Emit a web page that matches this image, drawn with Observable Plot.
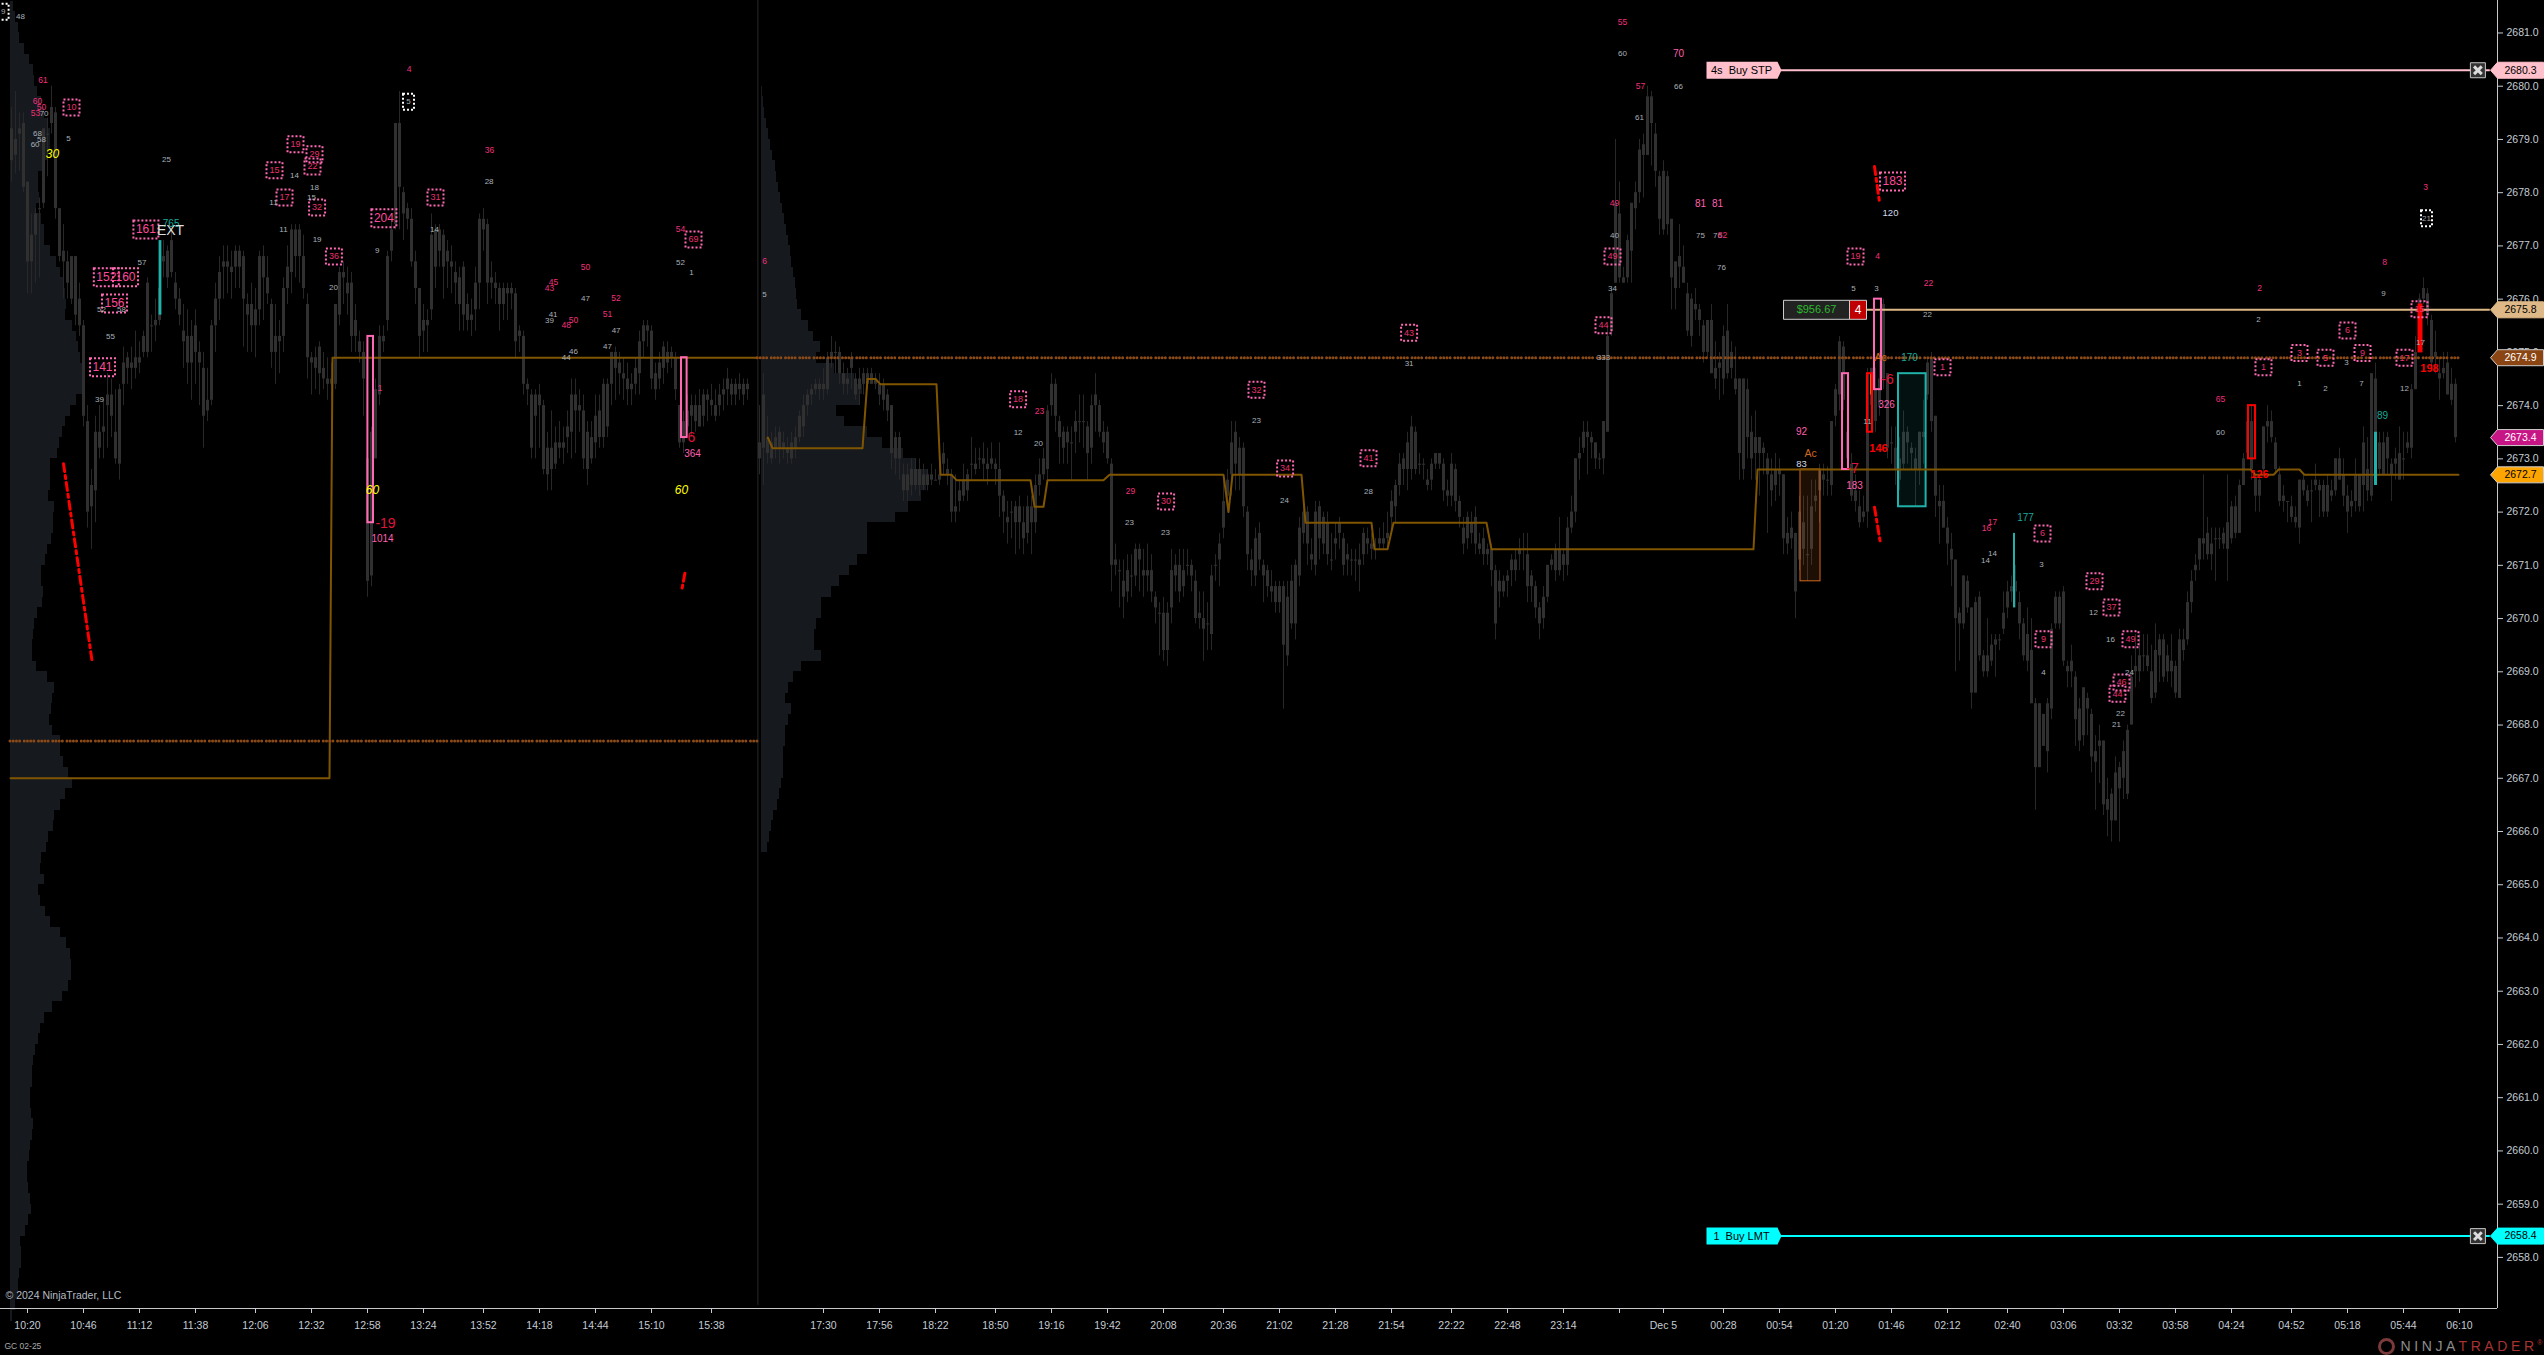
<!DOCTYPE html>
<html><head><meta charset="utf-8">
<style>
html,body{margin:0;padding:0;background:#000;overflow:hidden}
svg{display:block;background:#000}
</style>
<script src="https://cdn.jsdelivr.net/npm/d3@7"></script>
<script src="https://cdn.jsdelivr.net/npm/@observablehq/plot@0.6"></script>
</head><body><div id="chart"></div>
<script>
const priceBase = 2600;
// candle rows: [body top, body bottom, high, low], points above priceBase; one row per bar
const sessionOneStart = 3;
const sessionOneCandles = [
[79.2,78.6,79.6,78.2],[79.0,78.7,79.9,78.35],[79.2,79.1,79.5,78.4],[79.3,78.1,79.5,78.0],[78.2,76.7,78.2,76.1],[77.2,76.7,77.6,76.1],[77.6,77.2,77.7,76.3],[77.7,77.7,77.9,76.4],[79.2,77.8,79.2,77.7],[79.1,79.1,79.4,78.3],
[79.6,79.3,80.0,79.1],[79.5,77.7,79.6,77.5],[77.7,76.8,77.7,76.7],[76.9,76.7,77.4,76.0],[76.7,76.3,76.9,76.0],[76.8,76.0,76.8,75.9],[76.8,75.7,76.8,75.5],[76.0,75.5,76.3,75.3],[75.5,73.8,75.6,73.6],[73.7,72.0,74.0,71.7],
[72.5,72.1,72.8,71.3],[73.5,72.4,73.8,71.8],[73.5,73.2,74.0,73.0],[73.6,73.5,74.1,73.0],[74.2,74.0,74.6,73.2],[74.2,73.8,74.5,73.4],[73.5,73.0,74.3,72.9],[74.3,72.9,74.4,72.6],[74.8,74.4,75.1,74.0],[74.9,74.7,75.0,74.4],
[74.8,74.7,75.1,74.3],[74.9,74.7,75.4,74.5],[74.9,74.8,75.2,74.6],[75.3,75.0,75.4,74.9],[76.3,75.0,76.4,74.9],[75.5,75.5,75.7,75.0],[75.6,75.5,76.0,75.2],[76.2,75.6,76.5,75.5],[76.8,76.7,77.1,76.4],[76.9,76.4,77.0,76.2],
[77.1,76.5,77.3,76.4],[76.3,76.0,76.5,75.8],[76.0,75.7,76.2,75.5],[75.4,75.2,75.9,74.7],[75.3,74.8,75.8,74.4],[75.3,74.8,75.6,74.1],[75.5,75.0,75.8,74.4],[75.0,74.8,75.2,74.0],[74.7,73.8,75.0,73.2],[74.1,73.9,74.7,73.7],
[75.5,74.1,75.6,74.0],[76.0,75.5,76.3,75.0],[76.5,76.0,76.8,75.6],[76.7,76.6,77.0,76.0],[76.7,76.6,77.0,76.1],[76.6,76.5,76.9,76.0],[76.9,76.6,77.0,76.2],[76.9,76.6,77.0,76.2],[76.8,76.0,76.9,75.1],[75.9,75.7,76.1,75.0],
[75.9,75.5,76.3,75.0],[75.8,75.5,76.2,74.9],[76.8,75.8,76.9,75.5],[76.8,76.4,77.0,75.6],[76.4,76.1,76.8,75.9],[75.9,75.0,76.0,74.7],[75.3,75.0,75.9,74.4],[75.3,75.2,75.6,74.6],[76.2,75.3,76.4,75.0],[76.6,76.2,77.0,75.9],
[77.3,76.5,77.4,76.1],[77.3,76.8,77.4,76.4],[77.3,76.8,77.4,76.3],[76.8,76.2,77.2,76.0],[75.9,74.9,76.1,74.5],[74.9,74.8,75.0,74.2],[74.9,74.7,75.1,74.3],[75.1,74.6,75.2,74.2],[74.7,74.5,75.0,74.3],[74.5,74.4,74.9,74.1],
[74.5,74.4,74.8,74.1],[75.9,74.4,75.9,74.3],[76.5,75.7,76.6,75.5],[76.5,76.4,76.7,75.9],[76.3,76.1,76.6,75.7],[76.3,75.3,76.5,75.0],[75.6,75.3,75.9,75.0],[75.2,75.0,75.4,74.8],[75.0,74.5,75.2,73.8],[73.0,70.7,73.3,70.4],
[73.5,70.8,73.6,70.6],[74.3,73.0,74.5,73.0],[75.3,74.2,75.5,74.0],[75.3,75.2,75.5,75.0],[76.8,75.6,76.9,75.4],[77.3,76.9,77.5,76.7],[79.3,77.4,79.3,77.3],[79.3,78.1,79.9,77.3],[78.0,77.6,78.1,77.1],[77.7,77.5,77.8,77.3],
[77.5,76.7,77.7,76.6],[76.7,76.2,76.9,75.9],[76.2,75.3,76.2,74.9],[75.6,75.4,75.9,75.0],[75.6,75.5,75.8,75.0],[77.2,75.8,77.6,75.6],[77.3,76.6,77.4,76.2],[77.3,76.9,77.4,76.6],[77.2,76.6,77.3,76.0],[76.9,76.7,77.1,76.2],
[76.7,76.6,77.0,76.1],[76.5,76.3,76.7,75.9],[76.4,75.9,76.6,75.4],[76.6,75.7,76.7,75.4],[75.9,75.6,76.1,75.4],[75.7,75.6,76.0,75.3],[76.3,75.8,76.6,75.4],[77.5,76.3,77.6,75.8],[77.5,77.3,77.7,76.9],[77.4,76.3,77.5,75.9],
[76.4,76.3,76.7,76.0],[76.3,76.2,76.5,75.9],[76.2,75.9,76.3,75.4],[76.2,75.9,76.3,75.6],[76.2,76.1,76.3,75.6],[76.2,76.1,76.3,75.8],[76.1,75.2,76.2,74.9],[75.4,75.3,75.5,75.0],[75.3,74.4,75.4,74.2],[74.4,74.3,74.5,74.0],
[74.2,73.2,74.3,73.0],[74.2,73.8,74.3,73.0],[74.2,74.0,74.4,73.2],[74.0,72.8,74.1,72.7],[73.2,72.7,73.5,72.4],[73.2,72.8,73.9,72.4],[73.3,72.9,73.6,72.8],[73.3,73.2,73.7,73.0],[73.3,73.2,73.6,72.9],[73.6,73.4,73.9,73.1],
[74.2,73.5,74.5,73.0],[74.2,73.9,74.5,73.1],[74.0,73.9,74.3,73.5],[73.9,73.0,74.2,72.8],[73.5,72.8,73.7,72.5],[73.4,73.0,73.7,72.9],[73.8,73.3,74.2,73.0],[73.9,73.4,74.2,73.2],[74.4,73.4,74.5,73.2],[74.4,73.6,74.5,73.4],
[75.0,74.4,75.0,74.0],[75.0,74.7,75.1,74.1],[74.8,74.6,75.0,74.2],[74.6,74.5,74.9,74.1],[74.5,74.3,74.8,74.0],[74.4,74.3,74.6,74.0],[74.7,74.4,74.9,74.2],[75.2,74.6,75.4,74.2],[75.5,75.2,75.6,74.9],[75.5,75.4,75.6,75.1],
[75.4,74.5,75.5,74.3],[74.6,74.3,74.8,74.1],[74.8,74.5,75.0,74.3],[75.1,74.7,75.2,74.4],[75.0,74.8,75.2,74.6],[75.0,74.9,75.1,74.7],[74.9,74.3,75.0,74.1],[74.0,73.3,74.0,73.2],[73.7,73.3,73.9,73.1],[73.9,73.6,74.2,73.4],
[74.0,73.8,74.2,73.4],[74.0,73.7,74.2,73.5],[74.0,73.6,74.3,73.6],[74.2,73.8,74.3,73.6],[74.2,74.1,74.3,73.7],[74.1,74.0,74.4,73.8],[74.0,73.8,74.3,73.7],[74.2,74.0,74.4,73.8],[74.3,74.2,74.5,73.9],[74.5,74.3,74.7,74.0],
[74.4,74.2,74.5,74.0],[74.4,74.2,74.5,74.0],[74.4,74.3,74.6,74.1],[74.4,74.2,74.5,74.0],[74.4,74.3,74.5,74.1]];
const sessionTwoStart = 190;
const sessionTwoEvening = [
[73.3,73.0,74.0,72.7],[74.2,73.2,74.6,72.5],[73.4,73.1,73.8,72.9],[73.3,73.0,73.5,72.9],[73.4,73.2,73.6,73.0],[73.5,73.2,73.6,72.9],[73.3,73.2,73.5,73.0],[73.2,73.1,73.4,72.9],[73.3,73.0,73.5,72.9],[73.4,73.2,73.6,73.0],
[73.8,73.4,73.9,73.3],[74.0,73.6,74.2,73.4],[74.2,74.0,74.3,73.8],[74.3,74.2,74.4,74.0],[74.4,74.3,74.5,74.2],[74.4,74.3,74.5,74.1],[74.4,74.3,74.7,74.1],[74.9,74.3,75.0,74.2],[75.0,74.9,75.3,74.7],[75.0,75.0,75.2,74.6],
[75.0,74.6,75.1,74.4],[74.6,74.4,74.8,74.2],[74.5,74.4,74.7,74.2],[74.9,74.7,75.0,74.3],[74.5,74.2,74.6,74.1],[74.5,74.3,74.7,74.0],[74.6,74.4,74.7,74.2],[74.6,74.4,74.7,74.3],[74.6,74.4,74.7,74.4],[74.5,74.4,74.6,74.3],
[74.4,74.2,74.6,74.0],[74.4,74.1,74.5,73.9],[74.2,73.9,74.3,73.7],[74.0,73.1,74.0,72.8],[73.4,73.0,73.5,72.7],[73.4,73.0,73.5,72.6],[72.7,72.4,72.9,72.2],[72.7,72.4,72.9,72.2],[72.8,72.5,73.0,72.3],[72.8,72.5,73.0,72.4],
[72.8,72.5,73.0,72.3],[72.7,72.5,72.9,72.4],[72.7,72.5,72.8,72.4],[72.7,72.6,72.9,72.5],[72.6,72.6,72.8,72.6],[72.7,72.6,73.0,72.5],[73.1,72.9,73.3,72.7],[72.8,72.7,73.0,72.5],[72.7,72.0,72.8,71.8],[72.1,72.0,72.7,71.8],
[72.4,72.2,72.6,72.0],[72.6,72.3,72.9,72.2],[72.7,72.4,72.8,72.2],[72.9,72.9,73.4,72.6],[72.9,72.8,73.2,72.7],[73.0,73.0,73.2,72.8],[73.0,72.9,73.3,72.6],[72.9,72.8,73.2,72.5],[73.0,72.9,73.3,72.8],[72.9,72.8,73.0,72.5],
[72.8,72.3,73.3,71.9],[72.3,72.0,72.4,71.6],[71.9,71.8,72.2,71.4],[72.0,72.0,72.2,71.5],[72.1,71.8,72.2,71.2],[72.1,71.8,72.3,71.3],[71.8,71.5,72.1,71.2],[72.1,71.6,72.3,71.4],[72.1,71.8,72.3,71.2],[72.5,71.8,72.7,71.6],
[72.7,72.5,73.0,72.3],[73.0,72.7,73.2,72.6],[73.9,72.8,74.0,72.6],[74.4,74.0,74.6,73.8],[74.4,73.8,74.5,73.5],[73.7,73.4,73.8,72.9],[73.5,73.2,73.6,72.9],[73.5,73.3,73.6,72.9],[73.3,73.3,73.6,72.6],[73.7,73.5,73.9,73.1],
[73.7,73.7,74.2,73.3],[73.7,73.7,74.2,73.2],[73.6,73.1,73.7,72.6],[74.0,73.2,74.2,72.9],[74.2,74.0,74.6,73.5],[74.0,73.5,74.1,73.4],[73.5,73.3,73.7,73.1],[73.5,73.0,73.6,72.9],[72.9,71.0,73.0,70.5],[71.1,71.0,71.4,70.8],
[70.9,70.9,71.1,70.2],[70.7,70.4,71.1,70.0],[70.9,70.5,71.2,70.3],[70.8,70.8,71.2,70.4],[71.3,70.8,71.4,70.6],[71.3,71.1,71.4,70.5],[70.9,70.8,71.3,70.4],[70.9,70.8,71.4,70.5],[70.9,70.5,71.2,70.3],[70.4,70.2,70.5,69.9],
[70.1,70.1,70.3,69.3],[70.1,69.4,70.4,69.2],[70.1,69.4,70.3,69.1],[70.9,70.2,71.3,69.9],[71.0,70.8,71.2,70.5],[71.0,70.5,71.3,70.3],[70.9,70.6,71.3,70.4],[71.0,71.0,71.3,70.8],[71.0,70.8,71.1,70.5],[70.7,70.0,70.9,69.9],
[70.1,70.0,70.5,69.8],[70.0,69.8,70.5,69.2],[69.9,69.9,70.3,69.4],[70.8,69.7,71.0,69.4],[71.0,71.0,71.2,70.7],[71.4,71.1,71.6,70.6],[72.2,71.7,72.7,71.5],[72.6,72.3,72.8,72.0],[73.3,72.7,73.7,72.3],[73.5,72.9,73.7,72.4],
[73.2,72.7,73.4,72.4],[73.2,72.1,73.3,71.9],[72.0,71.2,72.1,70.9],[71.1,70.9,71.3,70.6],[71.5,70.8,71.7,70.6],[71.6,71.1,71.8,70.9],[71.0,70.8,71.1,70.3],[70.9,70.6,71.0,70.4],[70.6,70.5,70.9,70.3],[70.6,70.3,70.7,70.1],
[70.6,70.3,70.7,70.1],[70.6,69.5,70.7,68.3],[70.4,69.3,70.7,69.1],[70.7,69.9,71.0,69.8],[71.0,69.9,71.1,69.6],[71.7,70.8,71.9,70.6],[72.0,71.6,72.3,71.4],[72.0,71.4,72.1,71.0],[71.2,71.1,71.5,70.9],[72.0,71.0,72.2,70.8],
[72.1,71.5,72.2,71.1],[71.9,71.4,72.0,71.2],[71.8,71.2,72.0,71.0],[71.1,71.1,71.6,70.9],[71.5,71.4,71.8,71.1],[71.8,71.6,71.9,71.3],[71.5,71.0,71.6,70.8],[71.2,71.1,71.4,70.8],[71.1,71.1,71.3,70.8],[71.1,71.1,71.3,70.7],
[71.1,71.0,71.4,70.5],[71.6,71.2,71.7,71.0],[71.5,71.4,71.7,71.2],[71.4,71.3,71.6,71.1],[71.3,71.3,71.5,71.1],[71.5,71.4,71.7,71.3],[71.5,71.4,71.8,71.3],[71.6,71.5,72.0,71.3],[72.2,71.9,72.4,71.6],[72.5,72.1,72.6,71.8],
[72.9,72.5,73.1,72.3],[73.0,72.8,73.1,72.5],[73.3,72.8,73.5,72.4],[73.6,72.8,73.8,72.6],[73.5,72.8,73.6,72.7],[72.9,72.9,73.1,72.7],[72.9,72.9,73.0,72.6],[72.6,72.5,72.8,72.4],[72.9,72.6,73.0,72.4],[73.1,72.9,73.1,72.8],
[73.1,72.9,73.1,72.8],[72.9,72.4,73.0,72.2],[72.4,72.3,72.6,72.1],[72.9,72.3,73.1,72.1],[72.8,72.2,72.9,72.0],[72.2,71.9,72.3,71.7],[71.7,71.4,71.9,71.2],[71.9,71.5,72.0,71.3],[71.8,71.6,72.0,71.4],[71.9,71.4,72.1,71.2],
[71.4,71.3,71.6,71.2],[71.5,71.2,71.7,71.0],[71.3,71.2,71.4,71.0],[71.3,70.9,71.4,70.6],[70.9,69.9,71.0,69.6],[70.7,70.5,70.9,70.2],[70.7,70.5,70.8,70.4],[70.8,70.7,70.9,70.4],[71.1,70.9,71.2,70.6],[71.1,70.9,71.3,70.7],
[71.3,71.2,71.5,70.9],[71.3,71.3,71.6,70.9],[71.2,70.6,71.6,70.3],[70.8,70.6,70.9,70.3],[70.6,70.2,70.7,70.0],[70.2,69.9,70.3,69.6],[70.4,70.0,70.6,69.8],[71.0,70.4,71.0,70.3],[71.1,71.0,71.2,70.9],[71.3,70.9,71.4,70.7],
[71.3,70.9,71.9,70.8]];
const sessionTwoNightStart = 391;
const sessionTwoNight = [
[71.2,71.0,71.3,70.7],[71.7,71.0,71.9,70.8],[72.0,71.7,72.3,71.6],[73.0,72.0,73.0,71.8],[73.1,73.0,73.4,72.6],[73.5,73.2,73.7,73.1],[73.5,73.4,73.7,72.7],[73.4,73.3,73.5,73.0],[73.3,73.0,73.3,72.8],[73.0,73.0,73.1,72.8],[73.7,73.0,73.7,72.7],
[75.3,73.5,75.5,73.5],[76.1,75.4,76.2,75.3],[77.8,76.3,79.0,76.3],[77.6,76.4,78.2,76.3],[76.4,76.3,76.6,76.3],[77.1,76.4,77.2,76.3],[77.8,76.9,77.8,76.3],[78.0,77.7,78.2,77.3],[78.8,78.0,79.0,77.8],[78.9,78.7,79.1,77.9],
[79.8,78.7,80.0,78.7],[79.8,79.3,79.9,78.5],[79.1,78.4,79.3,78.1],[78.3,77.5,78.4,77.2],[78.4,77.3,78.6,77.2],[78.3,77.4,78.4,77.2],[77.5,76.4,77.5,75.8],[76.7,76.2,76.7,75.8],[76.8,76.6,77.4,76.2],[76.6,76.3,77.0,76.3],
[76.1,75.4,76.3,75.3],[76.0,75.3,76.1,75.1],[75.9,75.8,76.2,75.6],[75.8,75.6,75.9,75.3],[75.5,75.0,75.6,74.8],[75.6,75.0,75.6,74.9],[75.6,74.6,75.9,74.6],[74.7,74.5,75.2,74.3],[74.8,74.7,75.0,74.1],[75.3,74.5,75.5,74.2],[75.4,74.6,75.9,74.5],
[75.0,74.7,75.2,74.5],[74.5,74.3,75.1,74.2],[74.5,73.1,74.5,72.6],[74.5,72.8,74.5,72.6],[74.3,73.4,74.5,73.0],[73.5,73.0,73.8,72.6],[73.4,73.1,73.9,72.6],[73.4,73.1,73.4,72.3],[73.2,73.1,73.3,72.7],[73.0,72.7,73.1,71.6],[72.7,72.4,73.0,72.1],
[72.8,72.5,73.1,72.2],[72.8,72.7,73.0,72.3],[72.7,71.5,72.7,71.2],[71.6,71.4,71.9,71.2],[71.7,71.5,72.0,71.3],[71.6,70.5,71.6,70.0],[72.0,71.1,72.3,70.9],[71.8,71.3,72.3,71.0],[71.2,71.2,72.3,70.7],[72.1,71.3,72.6,71.0],[72.3,72.2,72.6,72.0],
[72.8,72.4,72.9,71.8],[72.7,72.6,72.9,72.3],[72.6,72.6,72.85,72.3],[73.7,72.5,73.7,72.3],[74.3,73.8,74.4,73.6],[75.2,74.2,75.3,73.9],[75.1,74.1,75.2,73.9],[73.5,73.0,73.8,72.9],[72.9,72.3,73.1,72.2],[72.4,72.2,72.7,72.0],[72.1,71.8,72.4,71.7],
[72.0,71.9,72.3,71.8],[74.6,72.0,74.7,71.7],[74.7,74.0,74.7,73.5],[74.3,73.7,74.7,73.5],[74.5,74.0,75.0,73.8],[75.9,74.5,76.0,74.3],[74.6,73.2,74.6,73.0],[73.3,73.3,73.6,72.9],[73.2,72.8,73.6,72.5],[73.0,72.6,73.4,72.4],[73.5,72.9,73.9,72.8],
[73.5,73.3,73.6,72.9],[73.2,73.1,73.3,72.8],[73.0,72.8,73.2,72.1],[73.5,72.8,73.5,72.5],[73.5,73.4,74.1,72.9],[74.8,74.2,74.9,74.1],[74.9,73.7,75.0,73.5],[73.8,72.3,73.8,71.9],[72.2,72.1,72.5,71.4],[72.2,71.7,72.5,71.7],[71.7,71.4,71.9,71.0],
[71.3,71.1,71.6,70.6],[71.1,70.0,71.1,69.0],[70.1,69.9,70.2,69.2],[70.8,69.9,70.8,69.8],[70.7,70.2,70.8,70.1],[70.2,68.6,70.2,68.3],[70.3,68.6,70.4,68.6],[70.4,69.3,70.5,69.2],[69.3,69.0,69.4,68.9],[69.3,69.0,70.0,68.9],[69.5,69.2,69.7,69.1],
[69.6,69.5,69.7,68.9],[69.6,69.6,69.7,69.4],[70.1,69.8,70.5,69.7],[70.5,70.2,70.7,70.0],[70.6,70.5,70.8,70.3],[70.7,70.5,71.0,70.2],[70.3,69.9,70.5,69.6],[69.9,69.3,70.0,69.2],[69.7,69.2,70.2,69.0],[69.4,68.4,70.0,68.4],[68.4,67.2,68.5,66.4],
[68.4,67.2,68.4,67.2],[68.2,67.6,68.2,67.6],[68.4,67.5,68.5,67.1],[69.8,68.3,69.9,68.1],[70.4,69.9,70.5,69.8],[70.4,69.9,70.5,69.8],[70.5,69.2,70.6,69.1],[69.1,69.0,69.2,68.7],[69.2,69.0,69.5,68.7],[68.9,68.1,69.0,67.6],[68.3,67.7,68.5,67.5],
[68.7,67.8,68.7,67.6],[68.5,68.3,68.6,67.8],[68.2,67.4,68.3,67.1],[67.5,67.3,67.8,66.4],[67.7,67.6,68.0,66.9],[67.7,66.5,67.7,66.3],[66.6,66.4,67.0,65.9],[66.7,66.2,66.8,65.8],[67.1,66.2,67.4,66.2],[67.2,66.8,67.3,65.8],[67.5,67.0,67.7,66.6],
[67.9,66.7,68.0,66.6],[68.9,68.0,69.3,68.0],[69.1,69.0,69.7,68.7],[69.3,69.0,69.7,68.8],[69.3,69.3,69.7,69.0],[69.3,69.1,69.7,69.0],[69.0,68.5,69.5,68.4],[69.4,68.6,69.9,68.5],[69.6,69.3,69.7,68.8],[69.6,68.9,69.7,68.8],[69.3,69.0,69.5,68.8],
[69.2,69.0,69.7,68.7],[69.1,68.6,69.2,68.5],[69.6,68.5,69.8,68.5],[69.6,69.4,69.8,69.2],[70.3,69.6,70.5,69.5],[70.7,70.3,70.9,70.1],[71.0,70.9,71.2,70.7],[71.5,71.1,71.5,70.9],[71.5,71.4,72.7,71.1],[71.6,71.2,71.9,71.1],[71.4,71.2,71.7,70.9],
[71.5,71.5,71.7,70.7],[71.5,71.5,71.7,71.3],[71.6,71.4,71.7,71.3],[71.8,71.3,72.7,70.7],[72.1,71.5,72.2,71.4],[72.1,71.6,72.3,71.5],[72.5,71.6,72.6,71.6],[73.0,72.5,73.1,72.5],[73.7,73.1,74.0,73.1],[73.7,72.8,74.0,72.6],[72.65,72.3,72.7,72.0],
[72.6,72.3,72.7,72.0],[73.6,72.8,73.6,72.7],[73.7,73.6,74.0,73.3],[73.7,73.4,73.9,73.3],[73.3,72.8,73.4,72.7],[72.7,72.2,72.85,72.1],[72.3,72.2,72.5,72.0],[72.2,72.2,72.2,71.8],[72.1,71.9,72.3,71.8],[71.9,71.8,72.1,71.7],[72.6,71.7,72.6,71.4],
[72.6,72.4,72.7,72.3],[72.4,72.2,72.5,72.1],[72.4,72.4,72.6,71.8],[72.6,72.5,72.9,72.4],[72.5,72.4,72.6,71.9],[72.5,72.0,72.6,71.9],[72.5,72.0,72.7,71.9],[72.4,72.3,72.6,72.2],[73.0,72.4,73.0,72.3],[73.0,72.6,73.2,72.6],[72.7,72.3,73.0,72.1],
[72.3,72.0,72.5,71.6],[72.2,72.1,72.4,71.9],[72.7,72.2,73.0,72.0],[72.7,72.1,72.7,72.0],[73.3,72.5,73.6,72.0],[72.8,72.4,73.4,72.2],[74.6,72.3,74.6,72.2],[74.5,73.3,74.8,73.2],[73.3,72.8,73.5,72.7],[73.3,72.7,73.5,72.7],[73.4,73.0,73.5,72.7],
[72.9,72.7,73.0,72.2],[73.0,72.9,73.2,72.6],[73.1,72.6,73.6,72.6],[73.0,73.0,73.5,72.6],[73.3,73.2,73.5,73.1],[74.3,73.2,74.4,73.0],[75.0,74.3,75.3,74.3],[76.0,75.7,76.1,75.5],[76.2,76.0,76.4,75.9],[76.1,75.7,76.2,75.5],[75.6,74.8,75.7,74.7],
[75.0,74.9,75.4,74.6],[74.6,74.5,74.9,74.1],[74.7,74.6,75.0,74.5],[74.8,74.2,75.0,74.2],[74.4,74.1,74.7,74.0],[74.4,73.4,74.5,73.3]];

// volume profiles: one width per 0.2-point price bin, highest bin first
const profileTopPrice = 81.6, profileStep = 0.2;
const sessionOneProfile = [3,5,8,9,14,19,23,24,27,31,34,38,40,40,38,34,28,28,29,26,31,34,34,40,46,50,53,55,56,55,62,66,68,70,72,72,72,66,60,55,52,49,47,40,40,40,38,44,43,43,41,37,35,31,31,33,32,27,24,23,22,22,26,37,44,42,41,39,42,50,50,53,58,62,55,50,44,43,38,36,31,30,34,28,30,35,40,50,56,60,61,61,58,52,42,34,30,28,25,23,22,22,20,20,21,23,22,20,19,17,17,18,20,21,18,15,10,11,11,9,8,8,5,2];
const sessionTwoProfileSkip = 8;
const sessionTwoProfile = [1,2,3,5,7,9,11,14,15,17,19,21,23,25,27,29,30,32,34,35,36,40,47,52,59,55,73,93,101,99,75,83,106,121,142,155,167,165,160,147,134,106,106,106,96,88,78,70,60,60,55,53,53,60,40,32,27,24,30,27,24,24,22,22,22,20,18,16,12,10,8,6];
const profileBaseBars = [2.75, 190.5];

// moving level line
const levelBarsA = [2.75,82.5,83.25,189.5];
const levelPricesA = [67.0,67.0,74.9,74.9];
const levelBarsB = [192.1,193.25,215.75,217,219,220.25,234.25,235.25,238,239.25,257.75,258.75,261,262,276,277.5,306,307.25,308.25,325.5,326.5,343,343.75,347,348.5,371.75,373,438.5,439.5,562.75,564,568.5,569.75,575,576.25,614.75];
const levelPricesB = [73.4,73.2,73.2,74.5,74.5,74.4,74.4,72.7,72.7,72.6,72.6,72.1,72.1,72.6,72.6,72.7,72.7,72.0,72.7,72.7,71.8,71.8,71.3,71.3,71.8,71.8,71.3,71.3,72.8,72.8,72.7,72.7,72.8,72.8,72.7,72.7];

const dottedLevels = [[2.75,189.5,67.7],[189.5,615,74.9]];
const orderLines = [[445.5,622.7,80.3,"#ffc0cb"],[466.75,622.7,75.8,"#deb887"],[445.5,622.7,58.4,"#00ffff"]];
const redDashes = [[[16,72.91],[23.15,69.2]],[[171.35,70.85],[170.5,70.51]],[[468.75,72.09],[470.25,71.41]],[[468.75,78.49],[470,77.82]]];

// rectangles: [left bar, right bar, top price, bottom price]
const pinkRects = [[92.1,93.5,75.3,71.8],[170.5,171.9,74.9,73.4],[460.75,462.25,74.6,72.8],[468.75,470.5,76.0,74.3]];
const redRects = [[467,468.25,74.6,73.5],[562.25,564,74.0,73.0]];
const tealBox = [[474.75,481.65,74.6,72.1]];
const orangeBox = [[450.25,455.25,72.8,70.7]];
const tealBars = [[39.9,40.6,77.1,75.7],[503.5,504,71.6,70.2],[593.75,594.5,73.5,72.5]];
const redBars = [[604.75,605.75,75.9,75.0]];
const orangeBars = [[467.75,468.25,74.6,74.2]];

// labels: [bar, price, text]
const greyLabels = [[5.25,81.31,"48"],[11.15,79.49,"70"],[9.5,79.11,"68"],[10.5,79,"58"],[8.9,78.91,"60"],[17.25,79.02,"5"],[41.75,78.62,"25"],[73.75,78.32,"14"],[78.75,78.1,"18"],[68.5,77.82,"11"],[78,77.91,"15"],[71,77.31,"11"],[79.4,77.12,"19"],[94.4,76.91,"9"],[83.5,76.22,"20"],[108.75,77.31,"14"],[122.4,78.21,"28"],[35.6,76.69,"57"],[25.5,75.81,"52"],[30.5,75.81,"58"],[27.75,75.3,"55"],[25,74.12,"39"],[170.25,76.69,"52"],[173,76.5,"1"],[146.5,76.01,"47"],[138.4,75.71,"41"],[137.5,75.6,"39"],[154.15,75.41,"47"],[152,75.11,"47"],[143.5,75.02,"46"],[141.7,74.9,"44"],
[191.25,76.09,"5"],[254.65,73.5,"12"],[259.75,73.29,"20"],[314.25,73.72,"23"],[282.5,71.81,"23"],[291.5,71.62,"23"],[321.25,72.22,"24"],[342.25,72.39,"28"],[352.4,74.79,"31"],[405.75,80.61,"60"],[419.75,80,"66"],[410,79.41,"61"],[403.75,77.2,"40"],[425.25,77.2,"75"],[429.5,77.2,"76"],[430.5,76.6,"76"],[403.25,76.2,"34"],[463.5,76.2,"5"],[469.25,76.2,"3"],[482,75.71,"22"],[401,74.9,"333"],[467,73.7,"11"],[498.25,71.22,"14"],[496.5,71.09,"14"],[510.5,71.02,"3"],[511,68.99,"4"],[523.5,70.12,"12"],[527.75,69.61,"16"],[532.5,68.99,"24"],[530.25,68.22,"22"],[529.25,68.01,"21"],[564.75,75.62,"2"],[596,76.11,"9"],[555.25,73.5,"60"],[575,74.42,"1"],[581.5,74.32,"2"],[586.75,74.81,"3"],[590.5,74.42,"7"],[601.25,74.32,"12"],[605.25,75.19,"17"]];
const pinkLabels = [[10.9,80.11,"61"],[9.5,79.71,"60"],[10.5,79.6,"50"],[9,79.49,"53"],[102.4,80.31,"4"],[122.5,78.79,"36"],[170.25,77.31,"54"],[146.5,76.6,"50"],[138.5,76.31,"45"],[137.5,76.2,"43"],[154.15,76.01,"52"],[152,75.71,"51"],[143.5,75.6,"50"],[141.7,75.51,"48"],[95.1,74.32,"1"],[191.25,76.71,"6"],[260,73.89,"23"],[282.75,72.39,"29"],[405.75,81.2,"55"],[410.25,80,"57"],[403.75,77.8,"49"],[430.75,77.2,"82"],[469.5,76.8,"4"],[482.25,76.29,"22"],[498.25,71.81,"17"],[496.75,71.69,"16"],[565,76.2,"2"],[596.25,76.69,"8"],[555.25,74.12,"65"],[606.5,78.1,"3"]];
const boxedLabels = [[18,79.6,"10"],[74,78.91,"19"],[78.75,78.72,"29"],[78.25,78.49,"22"],[68.75,78.42,"15"],[71.25,77.91,"17"],[79.4,77.72,"32"],[83.6,76.8,"36"],[109,77.91,"31"],[173.5,77.12,"69"],[254.65,74.12,"18"],[314.25,74.3,"32"],[291.65,72.2,"30"],[321.4,72.82,"34"],[342.25,73.01,"41"],[352.4,75.37,"43"],[403.25,76.8,"49"],[464,76.8,"19"],[401,75.51,"44"],[485.75,74.72,"1"],[510.75,71.6,"6"],[523.75,70.7,"29"],[528,70.21,"37"],[511,69.61,"9"],[532.75,69.61,"49"],[530.5,68.8,"46"],[529.5,68.59,"44"],[566,74.72,"1"],[575,74.99,"3"],[581.5,74.9,"5"],[587,75.41,"6"],[590.75,74.99,"9"],[601.25,74.9,"17"],[605,75.81,"15"]];
const boxedLargeLabels = [[36.6,77.31,"161"],[26.7,76.41,"152"],[31.5,76.41,"160"],[28.75,75.92,"156"],[25.75,74.72,"141"],[96.1,77.52,"204"],[473.25,78.21,"183"]];
const whiteBoxedLabels = [[0.9,81.4,"9"],[102.25,79.71,"5"],[606.75,77.52,"21"]];
const hotLabels = [[419.75,80.61,"70"],[425.25,77.8,"81"],[429.5,77.8,"81"],[95.75,71.5,"1014"],[173.25,73.1,"364"],[450.5,73.5,"92"],[471.75,74.02,"326"],[463.75,72.5,"183"]];
const crimsonLabels = [[173,73.4,"6"],[96.5,71.79,"-19"],[472,74.49,"-6"],[463.25,72.82,"-7"]];
const redLabels = [[469.75,73.2,"146"],[565,72.71,"126"],[607.5,74.7,"198"]];
const tealLabels = [[42.9,77.42,"765"],[477.5,74.9,"170"],[506.5,71.9,"177"],[595.75,73.8,"89"]];
const lightLabels = [[472.75,77.61,"120"],[450.5,72.91,"83"]];
const orangeLabels = [[452.75,73.1,"Ac"],[470.25,74.9,"Ac"]];
const yellowLabels = [[13.25,78.72,"30"],[93.25,72.41,"60"],[170.5,72.41,"60"]];
const extLabels = [[42.75,77.29,"EXT"]];

// right-hand price tags
const tagPrices = [80.3,75.8,74.9,73.4,72.7,58.4];
const tagFills = ["#ffc0cb","#deb887","#8b4513","#c71585","#ffa500","#00ffff"];
const tagText = ["#000","#000","#fff","#fff","#000","#000"];
const tagStrokes = ["#ffc0cb","#deb887","#cfcfcf","#cfcfcf","#cfcfcf","#00ffff"];
const orderTagBar = 445.5;
const orderTags = [[80.3,"4s  Buy STP","#ffc0cb"],[58.4,"1  Buy LMT","#00ffff"]];
const closeButtonBar = 619.6;
const closePrices = [80.3,58.4];
const pnlBar = 462.5;
const pnlPrice = 75.8;
const pnlText = "$956.67";
const pnlQty = "4";

// axis
const priceTicks = d3.range(2658,2682);
const timeBars = [7,21,35,49,64,78,92,106,121,135,149,163,178,206,220,234,249,263,277,291,306,320,334,348,363,377,391,405,416,431,445,459,473,487,502,516,530,544,558,573,587,601,615];
const timeLabels = ["10:20","10:46","11:12","11:38","12:06","12:32","12:58","13:24","13:52","14:18","14:44","15:10","15:38","17:30","17:56","18:22","18:50","19:16","19:42","20:08","20:36","21:02","21:28","21:54","22:22","22:48","23:14","","Dec 5","00:28","00:54","01:20","01:46","02:12","02:40","03:06","03:32","03:58","04:24","04:52","05:18","05:44","06:10"];
const sessionBreakBar = 189.6;

const candles = [
  ...sessionOneCandles.map((d,i)=>({bar:sessionOneStart+i,d})),
  ...sessionTwoEvening.map((d,i)=>({bar:sessionTwoStart+i,d})),
  ...sessionTwoNight.map((d,i)=>({bar:sessionTwoNightStart+i,d}))
];
const profileRows = [
  ...sessionOneProfile.map((v,k)=>({b:profileBaseBars[0],v,k})),
  ...sessionTwoProfile.map((v,k)=>({b:profileBaseBars[1],v,k:k+sessionTwoProfileSkip}))
];
const P = v => priceBase + v;
const shape = pts => ({draw(c){pts.forEach((p,i)=> i?c.lineTo(p[0],p[1]):c.moveTo(p[0],p[1]));c.closePath();}});
const box = (w,h) => shape([[-w/2,-h/2],[w/2,-h/2],[w/2,h/2],[-w/2,h/2]]);
const labelMark = (rows,fill,fontSize,extra={}) => Plot.text(rows,{x:d=>d[0],y:d=>P(d[1]),text:d=>d[2],fill,fontSize,...extra});
const boxMark = (rows,w,h,stroke) => Plot.dot(rows,{x:d=>d[0],y:d=>P(d[1]),symbol:box(w,h),r:1,fill:"none",stroke,strokeWidth:2,strokeDasharray:"2,2"});
const rectMark = (rows,opts) => Plot.rect(rows,{x1:d=>d[0],x2:d=>d[1],y1:d=>P(d[2]),y2:d=>P(d[3]),...opts});

const chart = Plot.plot({
  width:2544,height:1355,marginLeft:0,marginRight:47,marginTop:0,marginBottom:47,
  style:{background:"#000",color:"#c4ccd4",fontFamily:"Liberation Sans, Arial, sans-serif"},
  x:{domain:[0.25,624.5],axis:null},
  y:{domain:[2657.04,2681.61],axis:null},
  marks:[
    Plot.rect(profileRows,{x1:d=>d.b,x2:d=>d.b+d.v/4,y1:d=>P(profileTopPrice-profileStep*d.k),y2:d=>P(profileTopPrice-profileStep*(d.k+1)),fill:"#16191e",shapeRendering:"crispEdges"}),
    Plot.ruleX([sessionBreakBar],{stroke:"#2a2a2a",strokeWidth:1,y1:2657.1,y2:2681.61}),
    Plot.ruleX(candles,{x:"bar",y1:c=>P(c.d[3]),y2:c=>P(c.d[2]),stroke:"#282828",strokeWidth:1}),
    Plot.ruleX(candles,{x:"bar",y1:c=>P(c.d[1]===c.d[0]?c.d[0]-0.02:c.d[1]),y2:c=>P(c.d[0]),stroke:"#303030",strokeWidth:3}),
    rectMark(orangeBox,{fill:"#d2691e",fillOpacity:0.14,stroke:"#d2691e",strokeWidth:1}),
    rectMark(tealBox,{fill:"#20b2aa",fillOpacity:0.1,stroke:"#20b2aa",strokeWidth:2}),
    Plot.line(levelBarsA,{x:d=>d,y:(d,i)=>P(levelPricesA[i]),stroke:"#805500",strokeWidth:2}),
    Plot.line(levelBarsB,{x:d=>d,y:(d,i)=>P(levelPricesB[i]),stroke:"#805500",strokeWidth:2}),
    ...dottedLevels.map(l=>Plot.ruleY([P(l[2])],{x1:l[0],x2:l[1],stroke:"#8b4a16",strokeWidth:3,strokeLinecap:"round",strokeDasharray:"0.01,3.2,0.01,3.2,0.01,3.2,0.01,4.6"})),
    ...orderLines.map(l=>Plot.ruleY([P(l[2])],{x1:l[0],x2:l[1],stroke:l[3],strokeWidth:2})),
    ...redDashes.map(s=>Plot.line(s,{x:d=>d[0],y:d=>P(d[1]),stroke:"#ff0000",strokeWidth:3,strokeDasharray:"8,4,3,4"})),
    rectMark(tealBars,{fill:"#20b2aa"}),
    rectMark(redBars,{fill:"#ff0000",stroke:"#ff0000",strokeWidth:1}),
    rectMark(orangeBars,{fill:"#d2691e"}),
    rectMark(pinkRects,{fill:"none",stroke:"#ff69b4",strokeWidth:2}),
    rectMark(redRects,{fill:"none",stroke:"#ff0000",strokeWidth:2}),
    boxMark(boxedLabels,16,16,"#ff69b4"),
    boxMark(boxedLargeLabels,25,18,"#ff69b4"),
    boxMark(whiteBoxedLabels,11,16,"#ffffff"),
    labelMark(greyLabels,"#a8b0b8",8),
    labelMark(pinkLabels,"#f0307a",8.5),
    labelMark(boxedLabels,"#e8306e",9),
    labelMark(boxedLargeLabels,"#ff4a98",12),
    labelMark(whiteBoxedLabels,"#a8a8a8",8),
    labelMark(hotLabels,"#ff5fae",10),
    labelMark(crimsonLabels,"#e0143c",14),
    labelMark(redLabels,"#ff0000",11,{fontWeight:"bold"}),
    labelMark(tealLabels,"#1aa89a",10),
    labelMark(lightLabels,"#d0d8e8",9.5),
    labelMark(orangeLabels,"#d2691e",10.5),
    labelMark(yellowLabels,"#ffff00",12,{fontStyle:"italic"}),
    labelMark(extLabels,"#dddddd",14),
    // order tags
    Plot.dot(orderTags,{x:orderTagBar,y:d=>P(d[0]),r:1,symbol:shape([[-75,-8.5],[-4,-8.5],[0,0],[-4,8.5],[-75,8.5]]),fill:d=>d[2],stroke:"none"}),
    Plot.text(orderTags,{x:orderTagBar,y:d=>P(d[0]),text:d=>d[1],dx:-40,fill:"#000",fontSize:11}),
    // position box
    Plot.dot([pnlPrice],{x:pnlBar,y:d=>P(d),r:1,symbol:shape([[-66,-9.5],[0,-9.5],[0,9.5],[-66,9.5]]),fill:"#222",stroke:"#ccc",strokeWidth:1}),
    Plot.dot([pnlPrice],{x:pnlBar,y:d=>P(d),r:1,symbol:shape([[0,-9.5],[17,-9.5],[17,9.5],[0,9.5]]),fill:"#c00000",stroke:"#ccc",strokeWidth:1}),
    Plot.text([pnlText],{x:pnlBar,y:P(pnlPrice),text:d=>d,dx:-33,fill:"#2db82d",fontSize:11}),
    Plot.text([pnlQty],{x:pnlBar,y:P(pnlPrice),text:d=>d,dx:8.5,fill:"#fff",fontSize:12}),
    // close buttons
    Plot.dot(closePrices,{x:closeButtonBar,y:d=>P(d),r:1,symbol:box(15,15),fill:"#333",stroke:"#c4c4c4",strokeWidth:1}),
    Plot.dot(closePrices,{x:closeButtonBar,y:d=>P(d),r:3.6,symbol:"times",stroke:"#dcdcdc",strokeWidth:3}),
    // frame and axes
    Plot.ruleX([624.5],{stroke:"#c8c8c8",strokeWidth:1}),
    Plot.ruleY([2657.04],{stroke:"#c8c8c8",strokeWidth:1}),
    Plot.axisY({anchor:"right",ticks:priceTicks,tickFormat:d=>d.toFixed(1),tickSize:5,tickPadding:4,fontSize:10.5,color:"#c4ccd4",label:null}),
    Plot.axisX({anchor:"bottom",ticks:timeBars,tickFormat:d=>timeLabels[timeBars.indexOf(d)],tickSize:5,tickPadding:8,fontSize:10.5,color:"#c4ccd4",label:null}),
    // price tags
    Plot.dot(tagPrices,{x:624.5,y:d=>P(d),r:1,symbol:shape([[-7,0],[0,-8],[46,-8],[46,8],[0,8]]),fill:(d,i)=>tagFills[i],stroke:(d,i)=>tagStrokes[i],strokeWidth:1}),
    Plot.text(tagPrices,{x:624.5,y:d=>P(d),text:d=>(priceBase+d).toFixed(1),dx:23,fill:(d,i)=>tagText[i],fontSize:10.5}),
    // footer texts
    Plot.text(["© 2024 NinjaTrader, LLC"],{frameAnchor:"bottom-left",dx:5,dy:-13,textAnchor:"start",lineAnchor:"middle",fill:"#b4bcc4",fontSize:10.5}),
    Plot.text(["GC 02-25"],{frameAnchor:"bottom-left",dx:4,dy:38,textAnchor:"start",lineAnchor:"middle",fill:"#a8a8a8",fontSize:8.5}),
    Plot.dot([1],{frameAnchor:"bottom-right",dx:-111,dy:38,r:7,fill:"none",stroke:"#7a3a3a",strokeWidth:3}),
    Plot.text(["NINJA"],{frameAnchor:"bottom-right",dx:-97,dy:38,textAnchor:"start",lineAnchor:"middle",fill:"#8c8c8c",fontSize:14}),
    Plot.text(["TRADER"],{frameAnchor:"bottom-right",dx:-39,dy:38,textAnchor:"start",lineAnchor:"middle",fill:"#a83232",fontSize:14}),
    Plot.text(["®"],{frameAnchor:"bottom-right",dx:45,dy:34,textAnchor:"end",lineAnchor:"middle",fill:"#a83232",fontSize:7})
  ]
});
chart.querySelectorAll("text").forEach(t=>{ if(t.textContent==="NINJA"||t.textContent==="TRADER") t.style.letterSpacing="3.6px"; });
document.getElementById("chart").appendChild(chart);
</script></body></html>
